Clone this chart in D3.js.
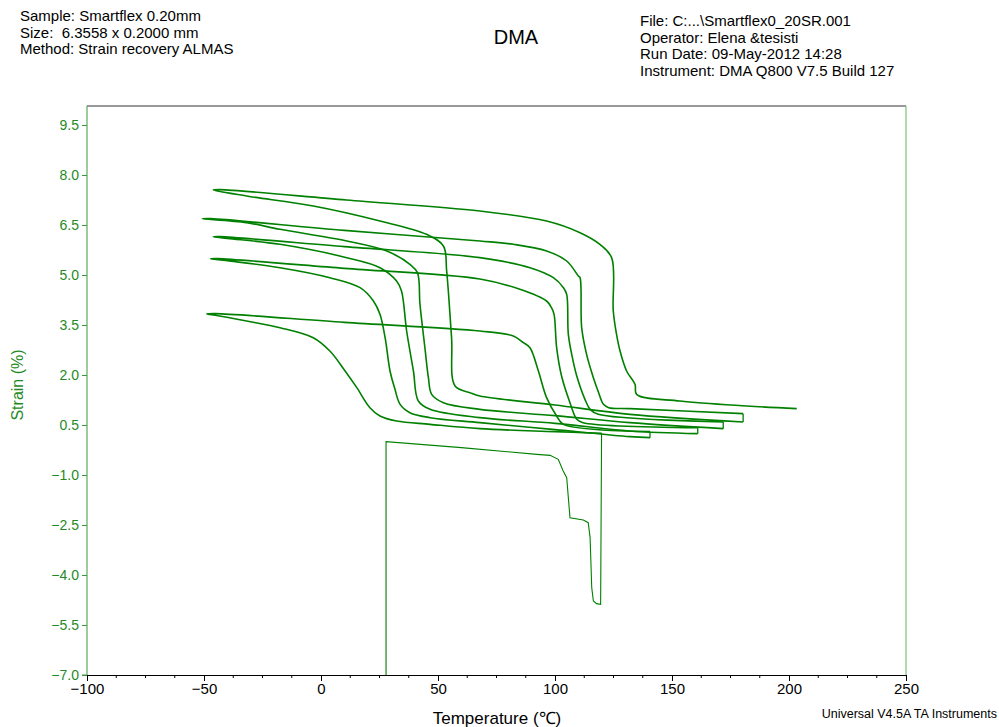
<!DOCTYPE html>
<html>
<head>
<meta charset="utf-8">
<script src="https://cdn.jsdelivr.net/npm/d3@7"></script>
<style>
  body { margin: 0; background: #fff; }
  svg { display: block; font-family: "Liberation Sans", Arial, sans-serif; }
</style>
</head>
<body>
<svg id="chart" width="999" height="727"></svg>
<script>
// ---------- data (Temperature °C, Strain %) ----------
const headerLeft = ["Sample: Smartflex 0.20mm", "Size:  6.3558 x 0.2000 mm", "Method: Strain recovery ALMAS"];
const headerRight = ["File: C:...\\Smartflex0_20SR.001", "Operator: Elena &tesisti", "Run Date: 09-May-2012 14:28", "Instrument: DMA Q800 V7.5 Build 127"];
const title = "DMA";
const xLabel = "Temperature (\u2103)";
const yLabel = "Strain (%)";
const footer = "Universal V4.5A TA Instruments";
const xTicks = [-100, -50, 0, 50, 100, 150, 200, 250];
const yTicks = [-7.0, -5.5, -4.0, -2.5, -1.0, 0.5, 2.0, 3.5, 5.0, 6.5, 8.0, 9.5];

// initial heating run
const run0 = [[27.8,-7.0],[27.8,0.0],[60,-0.18],[92.2,-0.38],[97.9,-0.41],[101.4,-0.53],[103.5,-0.88],[105.0,-1.08],[106.4,-2.28],[112.1,-2.35],[114.2,-2.43],[115.0,-2.88],[115.7,-4.38],[116.4,-4.78],[117.8,-4.86],[119.5,-4.88],[119.9,0.25]];
// cycle A (cooling then heating)
const cycleA = [[119.9,0.25],[100,0.30],[67.9,0.39],[46.6,0.52],[32.3,0.62],[25.2,0.77],[20.9,1.02],[15.3,1.62],[10.3,2.12],[3.8,2.72],[-3.3,3.12],[-17.5,3.42],[-31.8,3.62],[-44,3.78],[-48.8,3.83],
  [-45,3.84],[10,3.58],[67.9,3.32],[82.2,3.17],[86.5,2.97],[89.3,2.82],[92.9,2.12],[96.4,1.32],[100.7,0.77],[103.6,0.52],[140.6,0.30]];
// cycle B
const cycleB = [[140.6,0.12],[132,0.15],[100,0.36],[67.9,0.57],[46.6,0.72],[38,0.87],[33.8,1.12],[31.5,1.60],[29.5,2.12],[27.4,3.12],[25.2,3.82],[22.4,4.22],[16.7,4.62],[3.8,4.92],[-17.5,5.22],[-40,5.43],[-47.2,5.49],
  [-44,5.49],[10,5.20],[67.9,4.88],[85,4.57],[96.4,4.22],[98.5,4.02],[99.6,3.82],[100.7,2.82],[102.8,1.97],[106.4,1.17],[109.3,0.67],[112,0.57],[161,0.42]];
// cycle C
const cycleC = [[161,0.24],[132,0.32],[100,0.55],[67.9,0.72],[46.6,0.97],[41.6,1.22],[39.5,2.12],[36.6,3.32],[34.4,4.52],[32.3,4.82],[25.2,5.22],[11,5.52],[-17.5,5.92],[-40,6.10],[-46,6.15],
  [-43,6.15],[10,5.85],[67.9,5.52],[89.3,5.22],[99.3,4.92],[103.6,4.62],[105,4.42],[105.7,3.22],[107.5,2.50],[109.3,1.97],[112.8,1.27],[115,0.97],[118.5,0.82],[171.9,0.59]];
// cycle D
const cycleD = [[171.9,0.39],[132,0.57],[100,0.78],[67.9,0.97],[52.3,1.17],[47.3,1.42],[45.9,1.92],[44.4,2.82],[42.3,4.12],[41.2,5.07],[38,5.32],[28.1,5.72],[11,6.02],[-17.5,6.37],[-31.8,6.57],[-50.7,6.69],
  [-47,6.69],[10,6.34],[67.9,6.02],[82.2,5.92],[96.4,5.72],[105,5.42],[110,4.97],[110.7,4.92],[111.4,3.42],[113.5,2.62],[116.4,1.92],[118.5,1.50],[120.7,1.12],[123,1.02],[132,0.99],[180.4,0.84]];
// cycle E
const cycleE = [[180.4,0.59],[132,0.82],[100,1.10],[67.9,1.37],[63.7,1.47],[57.3,1.67],[55.8,3.12],[53.7,5.12],[52.3,5.87],[45.1,6.22],[25.2,6.62],[-3.3,7.07],[-31.8,7.37],[-46,7.55],
  [-43,7.56],[10.9,7.25],[67.9,6.92],[96.4,6.62],[110.7,6.27],[119.2,5.92],[124.2,5.52],[124.9,3.92],[126.3,3.22],[127.8,2.72],[130.6,2.12],[134.2,1.72],[134.9,1.42],[153.4,1.22],[181.9,1.07],[203.3,0.99]];
const cycles = [cycleA, cycleB, cycleC, cycleD, cycleE];

// ---------- layout ----------
const svg = d3.select("#chart");
const L = 87, R = 906, T = 106, B = 675;
const green = "#008000";
const axisGreen = "#3a9a3a";
const labelGreen = "#1f8a1f";

const x = d3.scaleLinear().domain([-100, 250]).range([L, R]);
const y = d3.scaleLinear().domain([-7, 10.07]).range([B, T]);

// header
const hl = svg.append("g").attr("font-size", 15).attr("fill", "#000");
headerLeft.forEach((t, i) => hl.append("text").attr("x", 20).attr("y", 21 + i * 16.5).style("white-space", "pre").text(t));
const hr = svg.append("g").attr("font-size", 15).attr("fill", "#000");
headerRight.forEach((t, i) => hr.append("text").attr("x", 640).attr("y", 26 + i * 16.5).text(t));
svg.append("text").attr("x", 516).attr("y", 44).attr("text-anchor", "middle").attr("font-size", 20).text(title);

// frame: top & right
svg.append("line").attr("x1", L).attr("x2", R).attr("y1", T).attr("y2", T).attr("stroke", "#333").attr("stroke-width", 1);
svg.append("line").attr("x1", R).attr("x2", R).attr("y1", T).attr("y2", B).attr("stroke", "#5cb85c").attr("stroke-width", 1);

// x axis (major + minor ticks)
const xAxis = d3.axisBottom(x).tickValues(xTicks).tickFormat(d3.format("d")).tickSize(6).tickPadding(2);
const gx = svg.append("g").attr("transform", `translate(0,${B})`).call(xAxis);
gx.select(".domain").attr("stroke", "#000");
gx.selectAll(".tick line").attr("stroke", "#000");
gx.selectAll("text").attr("font-size", 15).attr("fill", "#000").attr("font-family", "Liberation Sans, Arial, sans-serif");
const minor = d3.range(-100, 250.01, 12.5).filter(v => v % 50 !== 0);
svg.append("g").selectAll("line").data(minor).join("line")
  .attr("x1", d => x(d)).attr("x2", d => x(d)).attr("y1", B).attr("y2", B + 3).attr("stroke", "#000");

// y axis
const yAxis = d3.axisLeft(y).tickValues(yTicks).tickFormat(d3.format(".1f")).tickSize(5).tickPadding(3);
const gy = svg.append("g").attr("transform", `translate(${L},0)`).call(yAxis);
gy.select(".domain").attr("stroke", axisGreen).attr("d", `M-5,${B}H0V${T}`);
gy.selectAll(".tick line").attr("stroke", axisGreen);
gy.selectAll("text").attr("font-size", 14).attr("fill", labelGreen).attr("font-family", "Liberation Sans, Arial, sans-serif");

// labels
svg.append("text").attr("transform", `translate(23,385) rotate(-90)`).attr("text-anchor", "middle")
  .attr("font-size", 16).attr("fill", labelGreen).text(yLabel);
svg.append("text").attr("x", 497).attr("y", 724).attr("text-anchor", "middle").attr("font-size", 17).attr("fill", "#000").text(xLabel);
svg.append("text").attr("x", 997).attr("y", 718).attr("text-anchor", "end").attr("font-size", 12.5).attr("fill", "#000").text(footer);

// clip
svg.append("clipPath").attr("id", "clip").append("rect").attr("x", L).attr("y", T).attr("width", R - L).attr("height", B - T);

const line = d3.line().x(d => x(d[0])).y(d => y(d[1])).curve(d3.curveCatmullRom.alpha(0.5));
const lineLin = d3.line().x(d => x(d[0])).y(d => y(d[1]));
const plot = svg.append("g").attr("clip-path", "url(#clip)");
plot.append("path").datum(run0).attr("d", lineLin).attr("fill", "none").attr("stroke", green).attr("stroke-width", 1.1);
// small steps between consecutive cycles
const steps = cycles.slice(1).map((c, i) => [cycles[i][cycles[i].length - 1], c[0]]);
plot.selectAll(".step").data(steps).join("path").attr("class", "step").attr("d", lineLin)
  .attr("fill", "none").attr("stroke", green).attr("stroke-width", 1.3);
plot.selectAll(".cycle").data(cycles).join("path").attr("class", "cycle").attr("d", line)
  .attr("fill", "none").attr("stroke", green).attr("stroke-width", 1.6).attr("stroke-linejoin", "round");
</script>
</body>
</html>
